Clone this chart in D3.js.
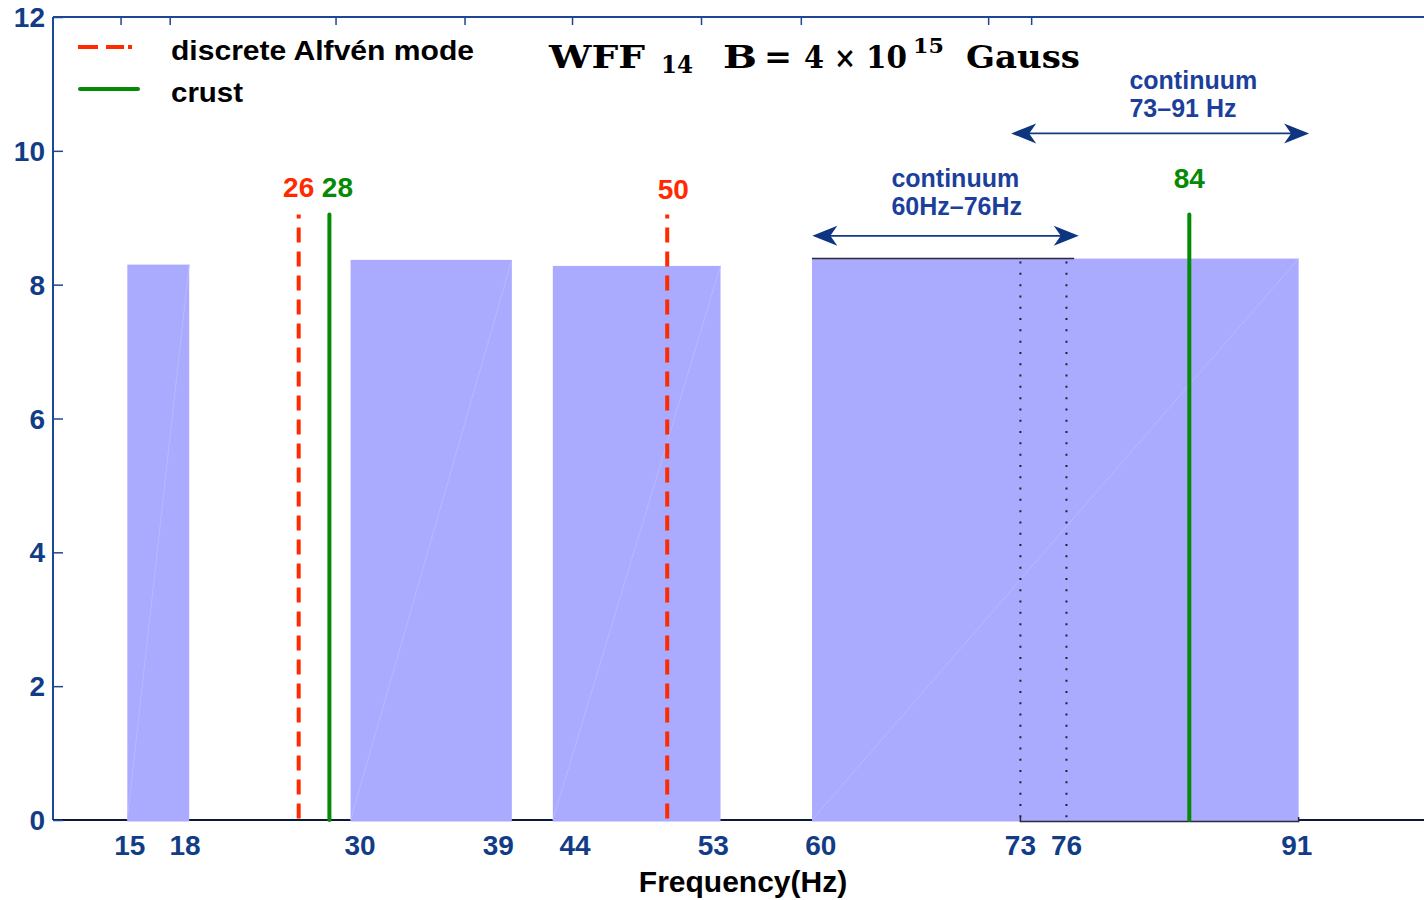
<!DOCTYPE html>
<html>
<head>
<meta charset="utf-8">
<script src="https://cdn.jsdelivr.net/npm/d3@7/dist/d3.min.js"></script>
<style>
  html, body { margin: 0; padding: 0; background: #fff; }
  svg { display: block; }
</style>
</head>
<body>
<svg id="chart" width="1424" height="900"></svg>
<script>
// ---- data ----
// continuum bands (Hz): start, end, height
const bandStart  = [14.84, 29.38, 42.55, 59.43];
const bandEnd    = [18.87, 39.88, 53.47, 91.12];
const bandHeight = [8.30, 8.37, 8.28, 8.39];

// discrete Alfvén modes (red dashed) and crust modes (green)
const alfvenFreq = [26, 50];
const crustFreq  = [28, 84];
const lineTop    = 9.05;

// overlapping continuum windows
const windowA = [59.43, 76.5];   // 60–76 Hz band, top edge drawn
const windowB = [73, 91.12];     // 73–91 Hz band, bottom edge drawn
const windowEdges = [73, 76];    // dotted boundaries

// arrows marking the two continua: [from, to, level]
const arrows = [
  { from: 59.45, to: 76.8, level: 8.73 },
  { from: 72.4,  to: 91.8, level: 10.26 }
];

// axis ticks
const xTickValues   = [15, 18, 30, 39, 44, 53, 60, 73, 76, 91];
const xLabelValues  = [15, 18.6, 30, 39, 44, 53, 60, 73, 76, 91];
const xTopTicks     = [14.4, 17.6, 28.4, 36.8, 43.8, 52.2, 58.7, 70.9, 73.7];
const yTickValues   = [0, 2, 4, 6, 8, 10, 12];

// ---- layout ----
const svg = d3.select("#chart");
const plotLeft = 53, plotRight = 1435, plotTop = 17, plotBottom = 820;
const x = d3.scaleLinear().domain([10, 100]).range([plotLeft, plotRight]);
const y = d3.scaleLinear().domain([0, 12]).range([plotBottom, plotTop]);

const tickColor  = "#123d86";
const annoColor  = "#1c3f9c";
const bandColor  = "#aaaaff";
const red   = "#ff2a00";
const green = "#058a05";
const sans  = "'Liberation Sans', Arial, Helvetica, sans-serif";
const serif = "'DejaVu Serif', 'Liberation Serif', serif";

// axes frame
svg.append("line").attr("x1", plotLeft).attr("x2", plotRight).attr("y1", plotTop).attr("y2", plotTop)
  .attr("stroke", "#1e4696").attr("stroke-width", 2);
svg.append("line").attr("x1", plotLeft).attr("x2", plotLeft).attr("y1", plotTop).attr("y2", plotBottom)
  .attr("stroke", "#1e4696").attr("stroke-width", 2);
svg.append("line").attr("x1", plotRight).attr("x2", plotRight).attr("y1", plotTop).attr("y2", plotBottom)
  .attr("stroke", "#1e4696").attr("stroke-width", 2);
svg.append("line").attr("x1", plotLeft).attr("x2", plotRight).attr("y1", plotBottom).attr("y2", plotBottom)
  .attr("stroke", "#0a1a3a").attr("stroke-width", 2);

// inward ticks on top axis
const topAxis = d3.axisBottom(x).tickValues(xTopTicks).tickSize(8).tickFormat("");
const gTop = svg.append("g").attr("transform", `translate(0,${plotTop})`).call(topAxis);
gTop.select(".domain").remove();
gTop.selectAll(".tick line").attr("stroke", "#1e4696").attr("stroke-width", 1.5);

// inward ticks on left and right axes
const leftTicks = d3.axisRight(y).tickValues(yTickValues).tickSize(10).tickFormat("");
const gL = svg.append("g").attr("transform", `translate(${plotLeft},0)`).call(leftTicks);
gL.select(".domain").remove();
gL.selectAll(".tick line").attr("stroke", "#1e4696").attr("stroke-width", 1.5);
const rightTicks = d3.axisLeft(y).tickValues(yTickValues).tickSize(10).tickFormat("");
const gR = svg.append("g").attr("transform", `translate(${plotRight},0)`).call(rightTicks);
gR.select(".domain").remove();
gR.selectAll(".tick line").attr("stroke", "#1e4696").attr("stroke-width", 1.5);

// y tick labels
svg.append("g").selectAll("text").data(yTickValues).join("text")
  .attr("x", 45).attr("y", d => y(d)).attr("dy", "0.36em")
  .attr("text-anchor", "end")
  .attr("font-family", sans).attr("font-weight", "bold").attr("font-size", 28)
  .attr("fill", tickColor).text(d => d);

// x tick labels
svg.append("g").selectAll("text").data(xTickValues).join("text")
  .attr("x", (d, i) => x(xLabelValues[i])).attr("y", 855)
  .attr("text-anchor", "middle")
  .attr("font-family", sans).attr("font-weight", "bold").attr("font-size", 28)
  .attr("fill", tickColor).text(d => d);

// x axis title
svg.append("text").attr("x", 743).attr("y", 892).attr("text-anchor", "middle")
  .attr("font-family", sans).attr("font-weight", "bold").attr("font-size", 30)
  .attr("fill", "#000").text("Frequency(Hz)");

// continuum bands
const bands = bandStart.map((s, i) => ({ s, e: bandEnd[i], h: bandHeight[i] }));
svg.append("g").selectAll("rect").data(bands).join("rect")
  .attr("x", d => x(d.s)).attr("width", d => x(d.e) - x(d.s))
  .attr("y", d => y(d.h)).attr("height", d => y(0) - y(d.h) + 1.5)
  .attr("fill", bandColor);
// faint seams across each band
svg.append("g").selectAll("line").data(bands).join("line")
  .attr("x1", d => x(d.s)).attr("y1", y(0))
  .attr("x2", d => x(d.e)).attr("y2", d => y(d.h))
  .attr("stroke", "#b9b9ff").attr("stroke-width", 1);

// overlapping windows: top edge of 60–76 and bottom edge of 73–91
svg.append("line")
  .attr("x1", x(windowA[0])).attr("x2", x(windowA[1]))
  .attr("y1", y(bandHeight[3])).attr("y2", y(bandHeight[3]))
  .attr("stroke", "#2a2a3a").attr("stroke-width", 1.5);
svg.append("path")
  .attr("d", `M${x(windowB[0])},${y(0) - 3} L${x(windowB[0])},${y(0) + 1.5} L${x(windowB[1])},${y(0) + 1.5} L${x(windowB[1])},${y(0) - 3}`)
  .attr("fill", "none").attr("stroke", "#2a2a3a").attr("stroke-width", 1.5);
svg.append("g").selectAll("line").data(windowEdges).join("line")
  .attr("x1", d => x(d)).attr("x2", d => x(d))
  .attr("y1", y(bandHeight[3]) + 3).attr("y2", y(0))
  .attr("stroke", "#22222e").attr("stroke-width", 2)
  .attr("stroke-dasharray", "2,9.3");

// discrete Alfvén mode lines
svg.append("g").selectAll("line").data(alfvenFreq).join("line")
  .attr("x1", d => x(d)).attr("x2", d => x(d))
  .attr("y1", y(lineTop)).attr("y2", y(0))
  .attr("stroke", red).attr("stroke-width", 4)
  .attr("stroke-dasharray", "15,9")
  .attr("stroke-dashoffset", 11);
// crust lines
svg.append("g").selectAll("line").data(crustFreq).join("line")
  .attr("x1", d => x(d)).attr("x2", d => x(d))
  .attr("y1", y(lineTop)).attr("y2", y(0))
  .attr("stroke", green).attr("stroke-width", 4)
  .attr("stroke-linecap", "round");

// value labels above the lines
const lineLabels = [
  { f: 26, dx: 0, yv: 9.31, c: red },
  { f: 28, dx: 8, yv: 9.31, c: green },
  { f: 50, dx: 6, yv: 9.28, c: red },
  { f: 84, dx: 0, yv: 9.44, c: green }
];
svg.append("g").selectAll("text").data(lineLabels).join("text")
  .attr("x", d => x(d.f) + d.dx).attr("y", d => y(d.yv))
  .attr("text-anchor", "middle")
  .attr("font-family", sans).attr("font-weight", "bold").attr("font-size", 28)
  .attr("fill", d => d.c).text(d => d.f);

// double-headed arrows
function arrowHead(tipX, tipY, dir) {
  const L = 25, W = 10, N = 18;
  return `M${tipX},${tipY} L${tipX - dir * L},${tipY - W} L${tipX - dir * N},${tipY} L${tipX - dir * L},${tipY + W} Z`;
}
const ga = svg.append("g");
arrows.forEach(a => {
  const x1 = x(a.from), x2 = x(a.to), yy = y(a.level);
  ga.append("line").attr("x1", x1 + 10).attr("x2", x2 - 10).attr("y1", yy).attr("y2", yy)
    .attr("stroke", "#123a86").attr("stroke-width", 1.8);
  ga.append("path").attr("d", arrowHead(x1, yy, -1)).attr("fill", "#0e3580");
  ga.append("path").attr("d", arrowHead(x2, yy, 1)).attr("fill", "#0e3580");
});

// continuum annotations
const annos = [
  { x: 80.1, lines: ["continuum", "73\u201391 Hz"], y0: 89 },
  { x: 64.6, lines: ["continuum", "60Hz\u201376Hz"], y0: 187 }
];
annos.forEach(a => {
  const t = svg.append("text").attr("font-family", sans).attr("font-weight", "bold")
    .attr("font-size", 25).attr("fill", annoColor);
  a.lines.forEach((s, i) => {
    t.append("tspan").attr("x", x(a.x)).attr("y", a.y0 + i * 27.5).text(s);
  });
});

// legend
const lg = svg.append("g");
lg.append("line").attr("x1", 78).attr("x2", 134).attr("y1", 47).attr("y2", 47)
  .attr("stroke", red).attr("stroke-width", 4).attr("stroke-dasharray", "20,8,18,4,4,100");
lg.append("text").attr("x", 171).attr("y", 60)
  .attr("font-family", sans).attr("font-weight", "bold").attr("font-size", 28)
  .attr("textLength", 303).attr("lengthAdjust", "spacingAndGlyphs")
  .attr("fill", "#000").text("discrete Alfvén mode");
lg.append("line").attr("x1", 80).attr("x2", 138).attr("y1", 89).attr("y2", 89)
  .attr("stroke", green).attr("stroke-width", 4).attr("stroke-linecap", "round");
lg.append("text").attr("x", 171).attr("y", 102)
  .attr("font-family", sans).attr("font-weight", "bold").attr("font-size", 28)
  .attr("textLength", 72).attr("lengthAdjust", "spacingAndGlyphs")
  .attr("fill", "#000").text("crust");

// title
const tt = svg.append("g").attr("font-family", serif).attr("font-weight", "bold").attr("fill", "#000");
function titlePiece(txt, px, py, size, len) {
  tt.append("text").attr("x", px).attr("y", py).attr("font-size", size)
    .attr("textLength", len).attr("lengthAdjust", "spacingAndGlyphs").text(txt);
}
titlePiece("WFF", 549, 68, 32, 96);
titlePiece("14", 661, 73, 24, 32);
titlePiece("B", 723, 68, 32, 34);
titlePiece("=", 764, 68, 32, 28);
titlePiece("4", 804, 68, 32, 20);
titlePiece("\u00d7", 834, 68, 30, 22);
titlePiece("10", 866, 68, 32, 41);
titlePiece("15", 913, 53, 21, 31);
titlePiece("Gauss", 966, 68, 32, 114);
</script>
</body>
</html>
